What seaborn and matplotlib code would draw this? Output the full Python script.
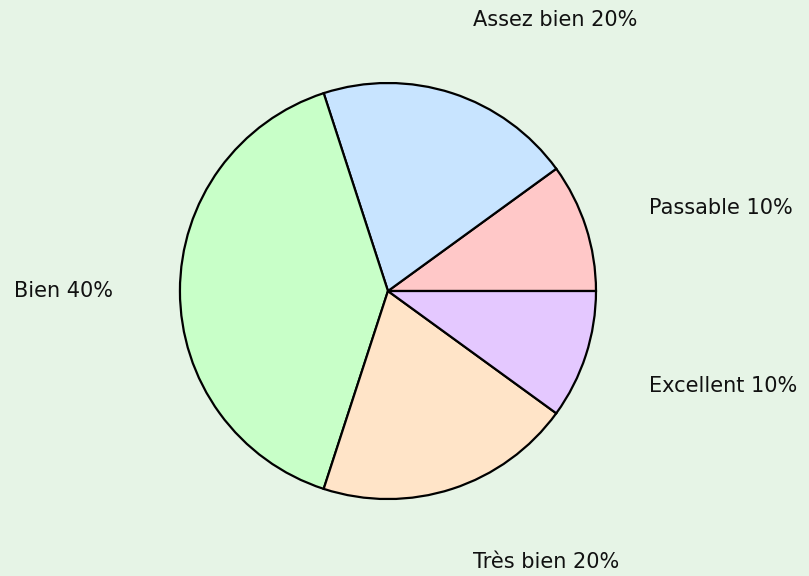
import matplotlib
matplotlib.use('Agg')
import matplotlib.pyplot as plt
import seaborn as sns

# data
categories = ['Passable', 'Assez bien', 'Bien', 'Très bien', 'Excellent']
shares = [10, 20, 40, 20, 10]
colors = ['#ffc8c8', '#c8e4ff', '#c8ffc8', '#ffe4c8', '#e4c8ff']

sns.set_theme(style='white')
plt.rcParams['font.family'] = ['DejaVu Sans']

bg = '#e6f4e6'
fig = plt.figure(figsize=(8.09, 5.76), dpi=100, facecolor=bg)
ax = fig.add_axes([0, 0, 1, 1])
ax.set_facecolor(bg)

labels = [f'{c} {v}%' for c, v in zip(categories, shares)]
wedges, texts = ax.pie(
    shares, labels=labels, colors=colors, startangle=0, counterclock=True,
    labeldistance=1.32, radius=1.0,
    wedgeprops=dict(edgecolor='black', linewidth=1.6),
    textprops=dict(fontsize=15, color='#111111'),
)

# vertical anchoring like the reference: top labels sit above, bottom below
for t in texts:
    x, y = t.get_position()
    if y > 1.0:
        t.set_va('bottom')
    elif y < -1.0:
        t.set_va('top')
    elif x > 0 and y < 0:
        t.set_va('top')
    elif x > 0:
        t.set_va('center_baseline')

ax.set_aspect('equal')
ax.set_xlim(-1.865, 2.024)
ax.set_ylim(-1.370, 1.399)
ax.axis('off')

fig.savefig('out.png', dpi=100, facecolor=bg)
